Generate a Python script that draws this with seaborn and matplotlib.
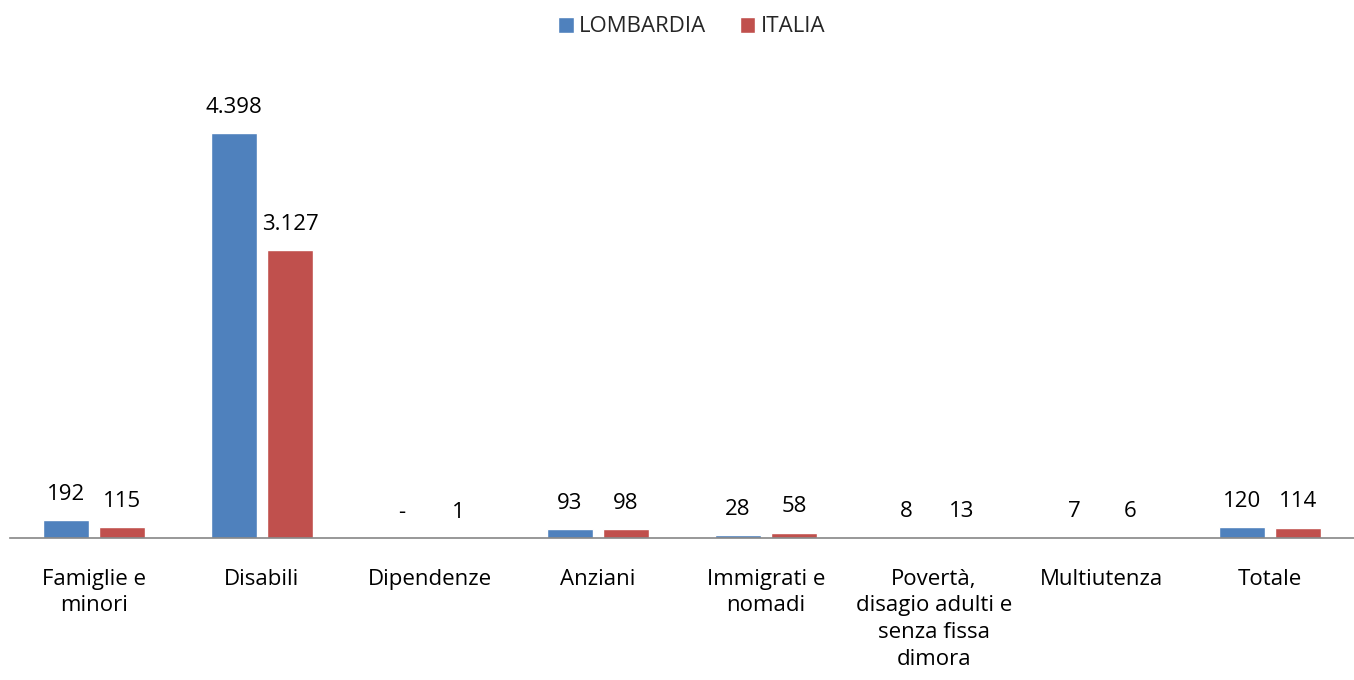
import matplotlib
matplotlib.use("Agg")
import matplotlib.pyplot as plt
import seaborn as sns
import pandas as pd

categories = [
    "Famiglie e\nminori",
    "Disabili",
    "Dipendenze",
    "Anziani",
    "Immigrati e\nnomadi",
    "Povertà,\ndisagio adulti e\nsenza fissa\ndimora",
    "Multiutenza",
    "Totale",
]
lombardia = [192, 4398, 0, 93, 28, 8, 7, 120]
italia = [115, 3127, 1, 98, 58, 13, 6, 114]
series_names = ["LOMBARDIA", "ITALIA"]
colors = ["#4F81BD", "#C0504D"]

df = pd.DataFrame({
    "categoria": categories * 2,
    "valore": lombardia + italia,
    "serie": [series_names[0]] * len(categories) + [series_names[1]] * len(categories),
})

sns.set_theme(style="white")
plt.rcParams["font.family"] = ["Open Sans", "DejaVu Sans"]

fig = plt.figure(figsize=(13.54, 6.8), dpi=100)
ax = fig.add_axes([10 / 1354, (680 - 538) / 680, 1344 / 1354, 460 / 680])

sns.barplot(
    data=df, x="categoria", y="valore", hue="serie",
    palette=colors, width=0.667, gap=0.18, ax=ax,
    order=categories, hue_order=series_names, saturation=1, legend=True,
)

ax.set_ylim(0, 5000)
ax.set_xlim(-0.5, len(categories) - 0.5)
ax.set_xlabel("")
ax.set_ylabel("")
ax.set_yticks([])
for side in ["left", "right", "top"]:
    ax.spines[side].set_visible(False)
ax.spines["bottom"].set_color("#868686")
ax.spines["bottom"].set_linewidth(1.2)
ax.tick_params(axis="x", length=0, pad=22, labelsize=16, colors="black")
for lbl in ax.get_xticklabels():
    lbl.set_linespacing(1.36)


def fmt(v):
    v = int(round(v))
    if v == 0:
        return "-"
    return f"{v:,}".replace(",", ".")


for container in ax.containers:
    ax.bar_label(container, labels=[fmt(b.get_height()) for b in container],
                 padding=11, fontsize=16, color="black")

handles, labels = ax.get_legend_handles_labels()
ax.legend_.remove()
fig.legend(handles, labels, loc="center", bbox_to_anchor=(0.511, 1 - 27 / 680),
           ncol=2, frameon=False, fontsize=16, handlelength=0.7, handleheight=0.7,
           handletextpad=0.25, columnspacing=1.5)

fig.savefig("out.png", dpi=100)
